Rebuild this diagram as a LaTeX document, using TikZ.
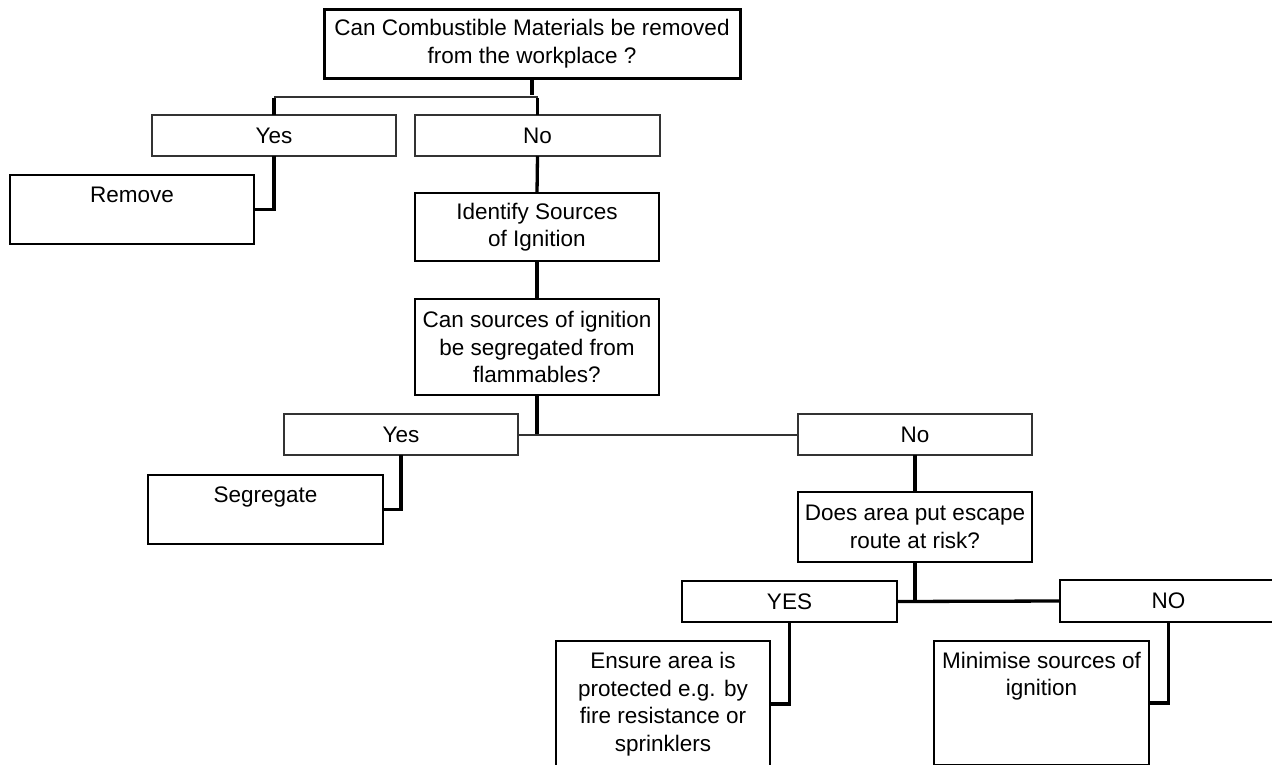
\documentclass[tikz,border=0pt]{standalone}
\usepackage{fontspec}
\setmainfont{Liberation Sans}
\newcommand\dfont{\fontsize{22.5}{27.5}\selectfont}
\tikzset{
  bx/.style={draw, line width=2.6pt, inner sep=0pt, outer sep=0pt, align=center, font=\dfont},
  mbx/.style={bx, line width=2.1pt},
  thinbx/.style={bx, line width=1.5pt, draw=black!80},
  txt/.style={inner sep=0pt, align=center, font=\dfont},
  conn/.style={line width=3.3pt},
  thinconn/.style={line width=2pt, draw=black!80},
}
\begin{document}
\begin{tikzpicture}[x=1pt, y=-1pt]
\path[use as bounding box, clip] (0,0) rectangle (1272,764);
\fill[white] (0,0) rectangle (1272,764);

% boxes
\node[bx, line width=3pt, minimum width=416, minimum height=69] (top) at (532,43.5) {Can Combustible Materials be removed\\from the workplace ?};
\node[thinbx, minimum width=244, minimum height=41] (yes1) at (274,135.5) {Yes};
\node[thinbx, minimum width=245, minimum height=41] (no1) at (537.5,135.5) {No};
\node[bx, minimum width=244, minimum height=69] (remove) at (132,209.5) {};
\node[txt] (removet) at (132,195) {Remove};
\node[bx, minimum width=244, minimum height=68] (ident) at (537,227) {Identify Sources\\of Ignition};
\node[bx, minimum width=244, minimum height=96] (cansrc) at (537,347) {Can sources of ignition\\be segregated from\\flammables?};
\node[thinbx, minimum width=234, minimum height=41] (yes2) at (401,434.5) {Yes};
\node[thinbx, minimum width=234, minimum height=41] (no2) at (915,434.5) {No};
\node[bx, minimum width=235, minimum height=69] (seg) at (265.5,509.5) {};
\node[txt] (segt) at (265.5,497) {Segregate};
\node[mbx, minimum width=234, minimum height=70] (does) at (915,527) {Does area put escape\\route at risk?};
\node[mbx, minimum width=215, minimum height=41] (yes3) at (789.5,601.5) {YES};
\node[bx, minimum width=217, minimum height=42] (no3) at (1168.5,601) {NO};
\node[mbx, minimum width=214, minimum height=126] (ens) at (663,704) {Ensure area is\\protected e.g. by\\fire resistance or\\sprinklers};
\node[bx, minimum width=215, minimum height=124] (min) at (1041.5,703) {};
\node[txt] (mint) at (1041.5,676) {Minimise sources of\\ignition};

% connectors
\coordinate (j1) at (532,97);
\draw[conn] (top.south) -- ([yshift=1.6pt]j1);
\draw[thinconn] (yes1.north |- j1) -- (no1.north |- j1);
\draw[conn] ([yshift=-1pt]yes1.north |- j1) -- (yes1.north);
\draw[conn] ([yshift=-1pt]no1.north |- j1) -- (no1.north);
\draw[conn] (yes1.south) |- (remove.east);
\draw[conn] (no1.south) -- (ident.north);
\draw[conn] (ident.south) -- (cansrc.north);
\draw[conn] (cansrc.south) -- ([yshift=1pt]cansrc.south |- yes2.east);
\draw[thinconn] (yes2.east) -- (no2.west);
\draw[conn] (yes2.south) |- (seg.east);
\draw[conn] (no2.south) -- (does.north);
\draw[conn] (does.south) -- ([yshift=1.6pt]does.south |- yes3.east);
\draw[conn] (yes3.east) -- (no3.west);
\draw[conn] (yes3.south) |- (ens.east);
\draw[conn] (no3.south) |- (min.east);
\end{tikzpicture}
\end{document}
